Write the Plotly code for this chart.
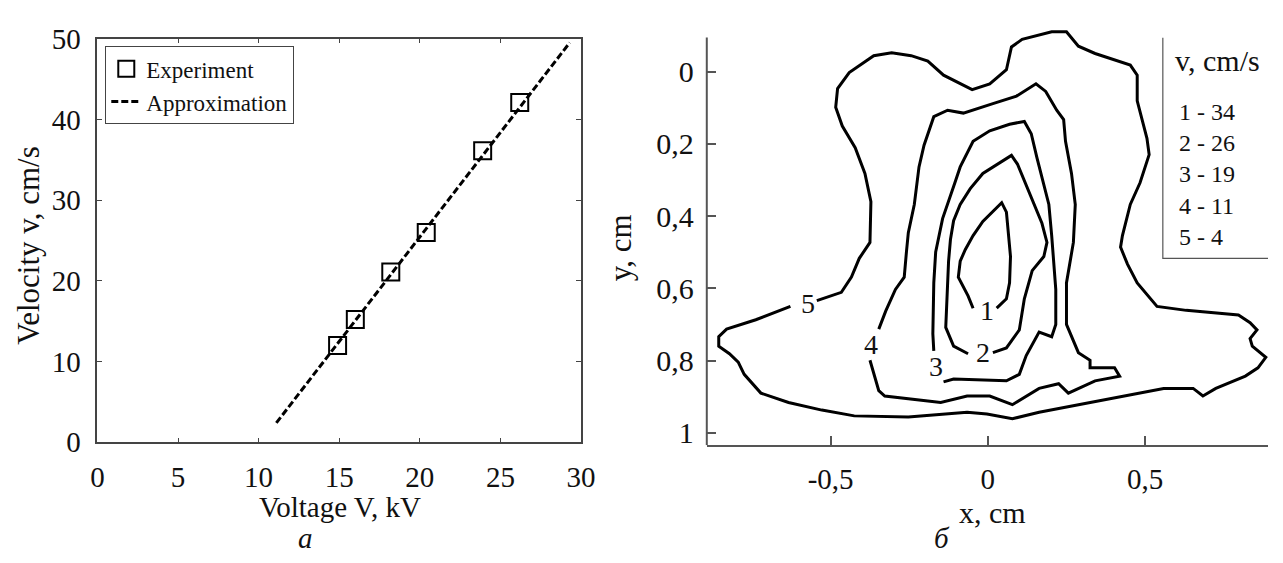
import plotly.graph_objects as go

# ---------------- Left panel data ----------------
voltage_exp = [14.9, 16.0, 18.2, 20.4, 23.9, 26.2]
velocity_exp = [12.0, 15.2, 21.1, 26.0, 36.1, 42.1]
voltage_fit = [11.1, 29.3]
velocity_fit = [2.4, 49.5]
x_ticks_left = [0, 5, 10, 15, 20, 25, 30]
y_ticks_left = [0, 10, 20, 30, 40, 50]

# ---------------- Right panel data (isolines) ----------------
c5_x = [-0.544, -0.466, -0.434, -0.409, -0.375, -0.372, -0.391, -0.422, -0.463, -0.484, -0.478, -0.441,
        -0.363, -0.306, -0.244, -0.191, -0.141, -0.050, 0.006, 0.059, 0.075, 0.109, 0.203, 0.250,
        0.288, 0.341, 0.453, 0.475, 0.475, 0.506, 0.513, 0.484, 0.453, 0.428, 0.422, 0.444, 0.475,
        0.538, 0.631, 0.797, 0.834, 0.856, 0.834, 0.841, 0.884, 0.859, 0.819, 0.725, 0.684, 0.653,
        0.559, 0.434, 0.288, 0.163, 0.078, -0.003, -0.066, -0.253, -0.425, -0.528, -0.634, -0.722,
        -0.775, -0.794, -0.822, -0.856, -0.856, -0.831, -0.738, -0.628]
c5_y = [0.634, 0.611, 0.569, 0.517, 0.473, 0.360, 0.282, 0.211, 0.151, 0.099, 0.047, 0.003,
        -0.044, -0.052, -0.044, -0.029, 0.010, 0.050, 0.034, -0.005, -0.068, -0.089, -0.110, -0.110,
        -0.070, -0.050, -0.018, 0.010, 0.081, 0.185, 0.230, 0.308, 0.368, 0.454, 0.486, 0.533, 0.585,
        0.650, 0.661, 0.674, 0.695, 0.715, 0.739, 0.760, 0.791, 0.820, 0.843, 0.877, 0.898, 0.877,
        0.877, 0.898, 0.922, 0.943, 0.961, 0.948, 0.943, 0.956, 0.953, 0.937, 0.916, 0.890,
        0.838, 0.804, 0.781, 0.760, 0.734, 0.713, 0.687, 0.650]

c4_x = [-0.347, -0.325, -0.294, -0.266, -0.259, -0.253, -0.234, -0.219, -0.203, -0.172, -0.128, -0.078,
        0.016, 0.091, 0.153, 0.184, 0.219, 0.241, 0.247, 0.266, 0.278, 0.272, 0.250, 0.250, 0.288,
        0.325, 0.325, 0.403, 0.419, 0.341, 0.256, 0.225, 0.163, 0.078, 0.006, -0.066, -0.150, -0.328,
        -0.347, -0.375]
c4_y = [0.713, 0.663, 0.603, 0.569, 0.499, 0.446, 0.368, 0.264, 0.204, 0.125, 0.107, 0.115,
        0.089, 0.068, 0.034, 0.055, 0.107, 0.133, 0.193, 0.282, 0.368, 0.473, 0.585, 0.700, 0.778,
        0.799, 0.820, 0.820, 0.843, 0.856, 0.890, 0.864, 0.877, 0.922, 0.898, 0.898, 0.916, 0.898,
        0.883, 0.799]

c3_x = [-0.172, -0.175, -0.172, -0.166, -0.144, -0.128, -0.103, -0.088, -0.047, 0.006, 0.069, 0.116,
        0.138, 0.156, 0.178, 0.194, 0.203, 0.209, 0.216, 0.216, 0.203, 0.163, 0.122, 0.100, 0.059,
        -0.109, -0.141]
c3_y = [0.773, 0.726, 0.585, 0.499, 0.407, 0.368, 0.303, 0.264, 0.193, 0.164, 0.146, 0.138,
        0.172, 0.238, 0.316, 0.368, 0.454, 0.525, 0.603, 0.700, 0.734, 0.721, 0.786, 0.838, 0.856,
        0.851, 0.859]

c2_x = [-0.063, -0.109, -0.134, -0.128, -0.125, -0.119, -0.109, -0.088, -0.056, -0.016, 0.038, 0.075,
        0.094, 0.122, 0.147, 0.172, 0.188, 0.178, 0.141, 0.116, 0.100, 0.059, 0.016]
c2_y = [0.781, 0.760, 0.708, 0.603, 0.525, 0.465, 0.413, 0.368, 0.324, 0.282, 0.251, 0.232,
        0.256, 0.316, 0.368, 0.420, 0.473, 0.512, 0.551, 0.629, 0.715, 0.765, 0.778]

c1_x = [-0.047, -0.063, -0.094, -0.088, -0.072, -0.047, -0.016, 0.044, 0.059, 0.066, 0.072, 0.069,
        0.059, 0.028]
c1_y = [0.655, 0.621, 0.569, 0.525, 0.493, 0.454, 0.415, 0.363, 0.389, 0.454, 0.512, 0.585,
        0.629, 0.655]

iso_numbers = [1, 2, 3, 4, 5]
iso_speeds = [34, 26, 19, 11, 4]
label_x = [-0.003, -0.016, -0.166, -0.372, -0.572]
label_y = [0.661, 0.778, 0.817, 0.755, 0.642]

x_ticks_right = [-0.5, 0, 0.5]
x_ticktext_right = ["-0,5", "0", "0,5"]
y_ticks_right = [0, 0.2, 0.4, 0.6, 0.8, 1]
y_ticktext_right = ["0", "0,2", "0,4", "0,6", "0,8", "1"]

# ---------------- Figure ----------------
W, H = 1283, 563
FONT = "Liberation Serif"
INK = "#111111"

fig = go.Figure()

fig.add_trace(go.Scatter(
    x=voltage_exp, y=velocity_exp, mode="markers", name="Experiment",
    marker=dict(symbol="square-open", size=17, color="black", line=dict(width=2, color="black")),
    xaxis="x", yaxis="y"))
fig.add_trace(go.Scatter(
    x=voltage_fit, y=velocity_fit, mode="lines", name="Approximation",
    line=dict(color="black", width=3, dash="7px,3px"),
    xaxis="x", yaxis="y"))

for cx, cy in [(c5_x, c5_y), (c4_x, c4_y), (c3_x, c3_y), (c2_x, c2_y), (c1_x, c1_y)]:
    fig.add_trace(go.Scatter(
        x=cx, y=cy, mode="lines", showlegend=False,
        line=dict(color="black", width=3), xaxis="x2", yaxis="y2", hoverinfo="skip"))


def ann(x, y, text, size, **kw):
    d = dict(x=x, y=y, xref="paper", yref="paper", text=text, showarrow=False,
             xanchor="center", yanchor="middle", font=dict(family=FONT, size=size, color=INK))
    d.update(kw)
    return d


annotations = []
for n, lx, ly in zip(iso_numbers, label_x, label_y):
    annotations.append(dict(x=lx, y=ly, xref="x2", yref="y2", text=str(n), showarrow=False,
                            xanchor="center", yanchor="middle",
                            font=dict(family=FONT, size=28, color=INK)))

annotations += [
    ann(339 / W, 1 - 521 / H, "Voltage V, kV", 29),
    ann(22 / W, 1 - 243 / H, "Velocity v, cm/s", 31, textangle=-90),
    ann(1003 / W, 1 - 526 / H, "x, cm", 30),
    ann(624 / W, 1 - 246 / H, "y, cm", 31, textangle=-90),
    ann(304 / W, 1 - 553 / H, "<i>а</i>", 29),
    ann(951 / W, 1 - 553 / H, "<i>б</i>", 29),
    ann(1186 / W, 1 - 47 / H, "v, cm/s", 30, xanchor="left"),
    ann(1190 / W, 1 - 168 / H, "<br>".join(f"{n} - {v}" for n, v in zip(iso_numbers, iso_speeds)), 24,
        xanchor="left", align="left"),
]

shapes = [
    # left (y) axis line of the right panel
    dict(type="line", xref="x2 domain", yref="y2", x0=0, x1=0, y0=1.034, y1=-0.094,
         line=dict(color="#555555", width=2)),
    # legend frame of the right panel
    dict(type="path", xref="paper", yref="paper",
         path=f"M {1176 / W},{1 - 23 / H} L {1176 / W},{1 - 257 / H} L 1.0,{1 - 257 / H}",
         line=dict(color="#555555", width=1.2)),
]

axis_common = dict(showgrid=False, zeroline=False, showline=True, ticks="inside")

fig.update_layout(
    width=W, height=H, margin=dict(l=0, r=0, t=0, b=0),
    paper_bgcolor="white", plot_bgcolor="white",
    showlegend=True,
    legend=dict(x=100 / W, y=1 - 32 / H, xanchor="left", yanchor="top",
                bgcolor="white", bordercolor="#444444", borderwidth=1,
                font=dict(family=FONT, size=23, color=INK), tracegroupgap=0, itemwidth=30),
    xaxis=dict(domain=[92 / W, 584 / W], range=[0, 30], tickvals=x_ticks_left, anchor="y",
               mirror="ticks", linecolor="#444444", linewidth=1.5, tickcolor="#444444", ticklen=5,
               ticklabelstandoff=8, tickfont=dict(family=FONT, size=29, color=INK), **axis_common),
    yaxis=dict(domain=[1 - 452 / H, 1 - 24 / H], range=[0, 50], tickvals=y_ticks_left, anchor="x",
               mirror="ticks", linecolor="#444444", linewidth=1.5, tickcolor="#444444", ticklen=5,
               ticklabelstandoff=9, tickfont=dict(family=FONT, size=29, color=INK), **axis_common),
    xaxis2=dict(domain=[712 / W, 1.0], range=[-0.894, 0.891], tickvals=x_ticks_right,
                ticktext=x_ticktext_right, anchor="y2", linecolor="#555555", linewidth=2,
                tickcolor="#555555", ticklen=9, tickwidth=2, ticklabelstandoff=7,
                tickfont=dict(family=FONT, size=29, color=INK), **axis_common),
    yaxis2=dict(domain=[1 - 455 / H, 1 - 11 / H], range=[1.034, -0.125], tickvals=y_ticks_right,
                ticktext=y_ticktext_right, anchor="x2", tickcolor="#555555", ticklen=9, tickwidth=2,
                ticklabelstandoff=12, tickfont=dict(family=FONT, size=30, color=INK),
                **{**axis_common, "showline": False}),
    annotations=annotations,
    shapes=shapes,
)

fig.write_html("out.html", config={"displayModeBar": False},
               post_script="document.body.style.margin='0px';")
